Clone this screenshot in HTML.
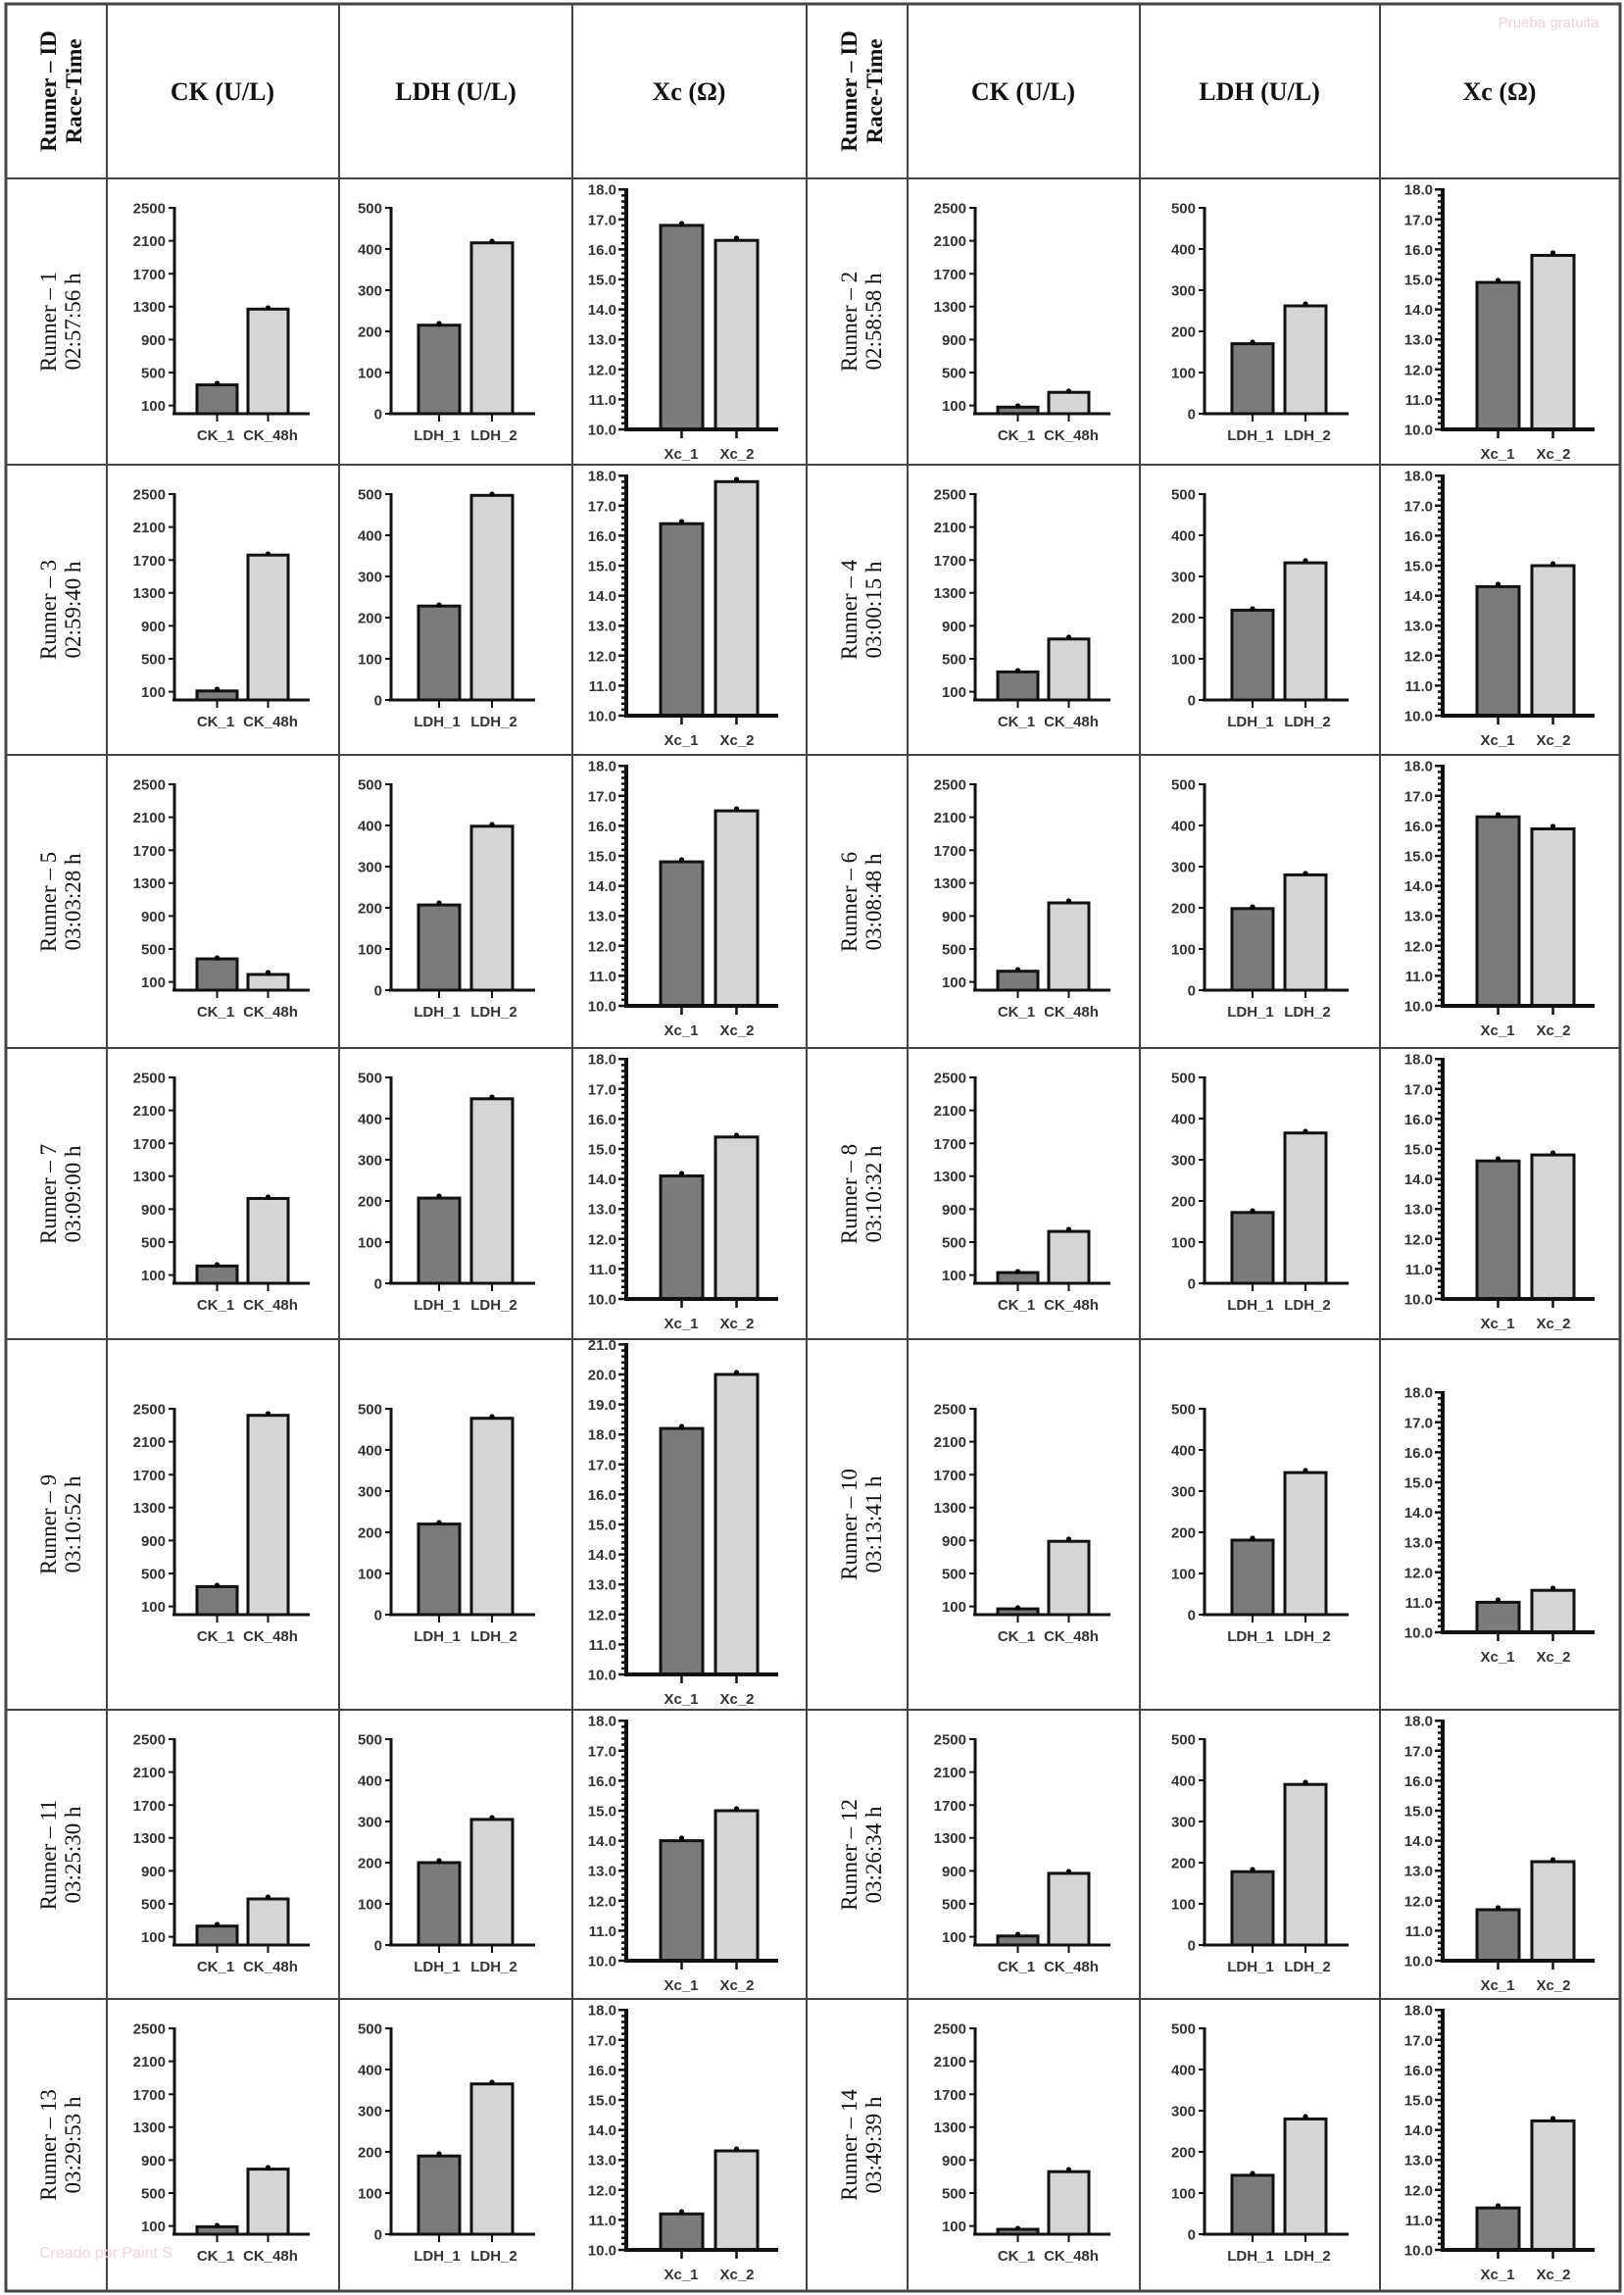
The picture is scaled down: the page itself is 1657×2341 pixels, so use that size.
<!DOCTYPE html>
<html><head><meta charset="utf-8"><style>
html,body{margin:0;padding:0;background:#fff}
svg{display:block}
.ax{stroke:#111;stroke-width:3;fill:none}
.tk{stroke:#111;stroke-width:2;fill:none}
.tl text{font:bold 15px "Liberation Sans",sans-serif;fill:#333;text-anchor:end}
.xl{font:bold 15px "Liberation Sans",sans-serif;fill:#333;text-anchor:middle}
.b1{fill:#7b7b7b;stroke:#111;stroke-width:3}
.b2{fill:#d5d5d5;stroke:#111;stroke-width:3}
.gl{stroke:#444;stroke-width:2}
.rl{font:23px "Liberation Serif",serif;fill:#111;text-anchor:middle}
.hd{font:bold 26px "Liberation Serif",serif;fill:#111;text-anchor:middle}
</style></head><body>
<svg width="1657" height="2341" viewBox="0 0 1657 2341" xmlns="http://www.w3.org/2000/svg">
<defs>
<g id="ckA"><path class="ax" d="M0,-211V0M-2,0H138"/><path class="tk" d="M-6,-8.4H0M-6,-42H0M-6,-75.6H0M-6,-109.2H0M-6,-142.8H0M-6,-176.4H0M-6,-210H0M43.5,0V8M95.5,0V8"/></g>
<g id="ldA"><path class="ax" d="M0,-211V0M-2,0H147"/><path class="tk" d="M-6,0H0M-6,-42H0M-6,-84H0M-6,-126H0M-6,-168H0M-6,-210H0M49,0V8M103,0V8"/></g>
<g id="xcA"><path class="ax" d="M0,-246V0M-2,0H155" style="stroke-width:4"/><path class="tk" d="M-8,0h8m-5,-6.12h5m-5,-6.12h5m-5,-6.12h5m-5,-6.12h5m-8,-6.12h8m-5,-6.12h5m-5,-6.12h5m-5,-6.12h5m-5,-6.12h5m-8,-6.12h8m-5,-6.12h5m-5,-6.12h5m-5,-6.12h5m-5,-6.12h5m-8,-6.12h8m-5,-6.12h5m-5,-6.12h5m-5,-6.12h5m-5,-6.12h5m-8,-6.12h8m-5,-6.12h5m-5,-6.12h5m-5,-6.12h5m-5,-6.12h5m-8,-6.12h8m-5,-6.12h5m-5,-6.12h5m-5,-6.12h5m-5,-6.12h5m-8,-6.12h8m-5,-6.12h5m-5,-6.12h5m-5,-6.12h5m-5,-6.12h5m-8,-6.12h8m-5,-6.12h5m-5,-6.12h5m-5,-6.12h5m-5,-6.12h5m-8,-6.12h8M56.5,0V9M112.5,0V9" style="stroke-width:2.5"/></g>
<g id="xcB"><path class="ax" d="M0,-338V0M-2,0H155" style="stroke-width:4"/><path class="tk" d="M-8,0h8m-5,-6.12h5m-5,-6.12h5m-5,-6.12h5m-5,-6.12h5m-8,-6.12h8m-5,-6.12h5m-5,-6.12h5m-5,-6.12h5m-5,-6.12h5m-8,-6.12h8m-5,-6.12h5m-5,-6.12h5m-5,-6.12h5m-5,-6.12h5m-8,-6.12h8m-5,-6.12h5m-5,-6.12h5m-5,-6.12h5m-5,-6.12h5m-8,-6.12h8m-5,-6.12h5m-5,-6.12h5m-5,-6.12h5m-5,-6.12h5m-8,-6.12h8m-5,-6.12h5m-5,-6.12h5m-5,-6.12h5m-5,-6.12h5m-8,-6.12h8m-5,-6.12h5m-5,-6.12h5m-5,-6.12h5m-5,-6.12h5m-8,-6.12h8m-5,-6.12h5m-5,-6.12h5m-5,-6.12h5m-5,-6.12h5m-8,-6.12h8m-5,-6.12h5m-5,-6.12h5m-5,-6.12h5m-5,-6.12h5m-8,-6.12h8m-5,-6.12h5m-5,-6.12h5m-5,-6.12h5m-5,-6.12h5m-8,-6.12h8m-5,-6.12h5m-5,-6.12h5m-5,-6.12h5m-5,-6.12h5m-8,-6.12h8M56.5,0V9M112.5,0V9" style="stroke-width:2.5"/></g>
</defs>

<rect x="6" y="4" width="1647" height="2333" fill="none" stroke="#444" stroke-width="3"/>
<path class="gl" d="M109,4V2337M346,4V2337M584,4V2337M823,4V2337M926,4V2337M1163,4V2337M1408,4V2337M6,182H1653M6,474H1653M6,770H1653M6,1069H1653M6,1366H1653M6,1744H1653M6,2039H1653"/>

<g transform="translate(57,93) rotate(-90)"><text class="hd" x="0" y="0" style="font-size:23px">Runner – ID</text></g>
<g transform="translate(83,93) rotate(-90)"><text class="hd" x="0" y="0" style="font-size:23px">Race-Time</text></g>
<g transform="translate(874,93) rotate(-90)"><text class="hd" x="0" y="0" style="font-size:23px">Runner – ID</text></g>
<g transform="translate(900,93) rotate(-90)"><text class="hd" x="0" y="0" style="font-size:23px">Race-Time</text></g>
<text class="hd" x="227" y="102">CK (U/L)</text>
<text class="hd" x="465" y="102">LDH (U/L)</text>
<text class="hd" x="703" y="102">Xc (Ω)</text>
<text class="hd" x="1044" y="102">CK (U/L)</text>
<text class="hd" x="1285" y="102">LDH (U/L)</text>
<text class="hd" x="1530" y="102">Xc (Ω)</text>
<text x="1580" y="28" style="font:15px 'Liberation Sans',sans-serif;fill:#f4d2d8" text-anchor="middle">Prueba gratuita</text>
<text x="40" y="2303" style="font:16px 'Liberation Sans',sans-serif;fill:#f6d6dc">Creado por Paint S</text>

<g class="rl">
<g transform="translate(57,328) rotate(-90)"><text>Runner – 1</text></g><g transform="translate(82,328) rotate(-90)"><text>02:57:56 h</text></g>
<g transform="translate(874,328) rotate(-90)"><text>Runner – 2</text></g><g transform="translate(899,328) rotate(-90)"><text>02:58:58 h</text></g>
<g transform="translate(57,622) rotate(-90)"><text>Runner – 3</text></g><g transform="translate(82,622) rotate(-90)"><text>02:59:40 h</text></g>
<g transform="translate(874,622) rotate(-90)"><text>Runner – 4</text></g><g transform="translate(899,622) rotate(-90)"><text>03:00:15 h</text></g>
<g transform="translate(57,920) rotate(-90)"><text>Runner – 5</text></g><g transform="translate(82,920) rotate(-90)"><text>03:03:28 h</text></g>
<g transform="translate(874,920) rotate(-90)"><text>Runner – 6</text></g><g transform="translate(899,920) rotate(-90)"><text>03:08:48 h</text></g>
<g transform="translate(57,1218) rotate(-90)"><text>Runner – 7</text></g><g transform="translate(82,1218) rotate(-90)"><text>03:09:00 h</text></g>
<g transform="translate(874,1218) rotate(-90)"><text>Runner – 8</text></g><g transform="translate(899,1218) rotate(-90)"><text>03:10:32 h</text></g>
<g transform="translate(57,1555) rotate(-90)"><text>Runner – 9</text></g><g transform="translate(82,1555) rotate(-90)"><text>03:10:52 h</text></g>
<g transform="translate(874,1555) rotate(-90)"><text>Runner – 10</text></g><g transform="translate(899,1555) rotate(-90)"><text>03:13:41 h</text></g>
<g transform="translate(57,1892) rotate(-90)"><text>Runner – 11</text></g><g transform="translate(82,1892) rotate(-90)"><text>03:25:30 h</text></g>
<g transform="translate(874,1892) rotate(-90)"><text>Runner – 12</text></g><g transform="translate(899,1892) rotate(-90)"><text>03:26:34 h</text></g>
<g transform="translate(57,2188) rotate(-90)"><text>Runner – 13</text></g><g transform="translate(82,2188) rotate(-90)"><text>03:29:53 h</text></g>
<g transform="translate(874,2188) rotate(-90)"><text>Runner – 14</text></g><g transform="translate(899,2188) rotate(-90)"><text>03:49:39 h</text></g>
</g>

<!-- ROW 1 -->
<g transform="translate(178,422)"><rect class="b1" x="23" y="-29.4" width="41" height="29.4"/><rect class="b2" x="75" y="-106.7" width="41" height="106.7"/><circle cx="43.5" cy="-31" r="2.6"/><circle cx="95.5" cy="-108" r="2.6"/><use href="#ckA"/><g class="tl"><text x="-9" y="-3">100</text><text x="-9" y="-36.5">500</text><text x="-9" y="-70">900</text><text x="-9" y="-104">1300</text><text x="-9" y="-137">1700</text><text x="-9" y="-171">2100</text><text x="-9" y="-204.5">2500</text></g><text class="xl" x="42" y="27">CK_1</text><text class="xl" x="98" y="27">CK_48h</text></g>
<g transform="translate(399,422)"><rect class="b1" x="28" y="-90.3" width="42" height="90.3"/><rect class="b2" x="82" y="-174.3" width="42" height="174.3"/><circle cx="49" cy="-92" r="2.6"/><circle cx="103" cy="-176" r="2.6"/><use href="#ldA"/><g class="tl"><text x="-9" y="5.5">0</text><text x="-9" y="-36.5">100</text><text x="-9" y="-78.5">200</text><text x="-9" y="-120.5">300</text><text x="-9" y="-162.5">400</text><text x="-9" y="-204.5">500</text></g><text class="xl" x="47" y="27">LDH_1</text><text class="xl" x="105" y="27">LDH_2</text></g>
<g transform="translate(639,438)"><rect class="b1" x="35" y="-208.1" width="43" height="208.1"/><rect class="b2" x="91" y="-192.8" width="43" height="192.8"/><circle cx="56.5" cy="-210" r="2.6"/><circle cx="112.5" cy="-195" r="2.6"/><use href="#xcA"/><g class="tl"><text x="-10" y="5.5">10.0</text><text x="-10" y="-25.1">11.0</text><text x="-10" y="-55.7">12.0</text><text x="-10" y="-86.3">13.0</text><text x="-10" y="-116.9">14.0</text><text x="-10" y="-147.5">15.0</text><text x="-10" y="-178.1">16.0</text><text x="-10" y="-208.7">17.0</text><text x="-10" y="-239.3">18.0</text></g><text class="xl" x="56" y="30">Xc_1</text><text class="xl" x="113" y="30">Xc_2</text></g>

<g transform="translate(995,422)"><rect class="b1" x="23" y="-6.7" width="41" height="6.7"/><rect class="b2" x="75" y="-21.8" width="41" height="21.8"/><circle cx="43.5" cy="-8" r="2.6"/><circle cx="95.5" cy="-23" r="2.6"/><use href="#ckA"/><g class="tl"><text x="-9" y="-3">100</text><text x="-9" y="-36.5">500</text><text x="-9" y="-70">900</text><text x="-9" y="-104">1300</text><text x="-9" y="-137">1700</text><text x="-9" y="-171">2100</text><text x="-9" y="-204.5">2500</text></g><text class="xl" x="42" y="27">CK_1</text><text class="xl" x="98" y="27">CK_48h</text></g>
<g transform="translate(1229,422)"><rect class="b1" x="28" y="-71.4" width="42" height="71.4"/><rect class="b2" x="82" y="-110" width="42" height="110"/><circle cx="49" cy="-73" r="2.6"/><circle cx="103" cy="-112" r="2.6"/><use href="#ldA"/><g class="tl"><text x="-9" y="5.5">0</text><text x="-9" y="-36.5">100</text><text x="-9" y="-78.5">200</text><text x="-9" y="-120.5">300</text><text x="-9" y="-162.5">400</text><text x="-9" y="-204.5">500</text></g><text class="xl" x="47" y="27">LDH_1</text><text class="xl" x="105" y="27">LDH_2</text></g>
<g transform="translate(1472,438)"><rect class="b1" x="35" y="-149.9" width="43" height="149.9"/><rect class="b2" x="91" y="-177.5" width="43" height="177.5"/><circle cx="56.5" cy="-152" r="2.6"/><circle cx="112.5" cy="-180" r="2.6"/><use href="#xcA"/><g class="tl"><text x="-10" y="5.5">10.0</text><text x="-10" y="-25.1">11.0</text><text x="-10" y="-55.7">12.0</text><text x="-10" y="-86.3">13.0</text><text x="-10" y="-116.9">14.0</text><text x="-10" y="-147.5">15.0</text><text x="-10" y="-178.1">16.0</text><text x="-10" y="-208.7">17.0</text><text x="-10" y="-239.3">18.0</text></g><text class="xl" x="56" y="30">Xc_1</text><text class="xl" x="113" y="30">Xc_2</text></g>

<!-- ROW 2 -->
<g transform="translate(178,714)"><rect class="b1" x="23" y="-9.2" width="41" height="9.2"/><rect class="b2" x="75" y="-147.8" width="41" height="147.8"/><circle cx="43.5" cy="-11" r="2.6"/><circle cx="95.5" cy="-149" r="2.6"/><use href="#ckA"/><g class="tl"><text x="-9" y="-3">100</text><text x="-9" y="-36.5">500</text><text x="-9" y="-70">900</text><text x="-9" y="-104">1300</text><text x="-9" y="-137">1700</text><text x="-9" y="-171">2100</text><text x="-9" y="-204.5">2500</text></g><text class="xl" x="42" y="27">CK_1</text><text class="xl" x="98" y="27">CK_48h</text></g>
<g transform="translate(399,714)"><rect class="b1" x="28" y="-95.8" width="42" height="95.8"/><rect class="b2" x="82" y="-208.7" width="42" height="208.7"/><circle cx="49" cy="-97" r="2.6"/><circle cx="103" cy="-210" r="2.6"/><use href="#ldA"/><g class="tl"><text x="-9" y="5.5">0</text><text x="-9" y="-36.5">100</text><text x="-9" y="-78.5">200</text><text x="-9" y="-120.5">300</text><text x="-9" y="-162.5">400</text><text x="-9" y="-204.5">500</text></g><text class="xl" x="47" y="27">LDH_1</text><text class="xl" x="105" y="27">LDH_2</text></g>
<g transform="translate(639,730)"><rect class="b1" x="35" y="-195.8" width="43" height="195.8"/><rect class="b2" x="91" y="-238.7" width="43" height="238.7"/><circle cx="56.5" cy="-198" r="2.6"/><circle cx="112.5" cy="-241" r="2.6"/><use href="#xcA"/><g class="tl"><text x="-10" y="5.5">10.0</text><text x="-10" y="-25.1">11.0</text><text x="-10" y="-55.7">12.0</text><text x="-10" y="-86.3">13.0</text><text x="-10" y="-116.9">14.0</text><text x="-10" y="-147.5">15.0</text><text x="-10" y="-178.1">16.0</text><text x="-10" y="-208.7">17.0</text><text x="-10" y="-239.3">18.0</text></g><text class="xl" x="56" y="30">Xc_1</text><text class="xl" x="113" y="30">Xc_2</text></g>

<g transform="translate(995,714)"><rect class="b1" x="23" y="-28.6" width="41" height="28.6"/><rect class="b2" x="75" y="-62.2" width="41" height="62.2"/><circle cx="43.5" cy="-30" r="2.6"/><circle cx="95.5" cy="-64" r="2.6"/><use href="#ckA"/><g class="tl"><text x="-9" y="-3">100</text><text x="-9" y="-36.5">500</text><text x="-9" y="-70">900</text><text x="-9" y="-104">1300</text><text x="-9" y="-137">1700</text><text x="-9" y="-171">2100</text><text x="-9" y="-204.5">2500</text></g><text class="xl" x="42" y="27">CK_1</text><text class="xl" x="98" y="27">CK_48h</text></g>
<g transform="translate(1229,714)"><rect class="b1" x="28" y="-91.6" width="42" height="91.6"/><rect class="b2" x="82" y="-139.9" width="42" height="139.9"/><circle cx="49" cy="-93" r="2.6"/><circle cx="103" cy="-142" r="2.6"/><use href="#ldA"/><g class="tl"><text x="-9" y="5.5">0</text><text x="-9" y="-36.5">100</text><text x="-9" y="-78.5">200</text><text x="-9" y="-120.5">300</text><text x="-9" y="-162.5">400</text><text x="-9" y="-204.5">500</text></g><text class="xl" x="47" y="27">LDH_1</text><text class="xl" x="105" y="27">LDH_2</text></g>
<g transform="translate(1472,730)"><rect class="b1" x="35" y="-131.6" width="43" height="131.6"/><rect class="b2" x="91" y="-153" width="43" height="153"/><circle cx="56.5" cy="-134" r="2.6"/><circle cx="112.5" cy="-155" r="2.6"/><use href="#xcA"/><g class="tl"><text x="-10" y="5.5">10.0</text><text x="-10" y="-25.1">11.0</text><text x="-10" y="-55.7">12.0</text><text x="-10" y="-86.3">13.0</text><text x="-10" y="-116.9">14.0</text><text x="-10" y="-147.5">15.0</text><text x="-10" y="-178.1">16.0</text><text x="-10" y="-208.7">17.0</text><text x="-10" y="-239.3">18.0</text></g><text class="xl" x="56" y="30">Xc_1</text><text class="xl" x="113" y="30">Xc_2</text></g>

<!-- ROW 3 -->
<g transform="translate(178,1010)"><rect class="b1" x="23" y="-31.9" width="41" height="31.9"/><rect class="b2" x="75" y="-16" width="41" height="16"/><circle cx="43.5" cy="-33" r="2.6"/><circle cx="95.5" cy="-18" r="2.6"/><use href="#ckA"/><g class="tl"><text x="-9" y="-3">100</text><text x="-9" y="-36.5">500</text><text x="-9" y="-70">900</text><text x="-9" y="-104">1300</text><text x="-9" y="-137">1700</text><text x="-9" y="-171">2100</text><text x="-9" y="-204.5">2500</text></g><text class="xl" x="42" y="27">CK_1</text><text class="xl" x="98" y="27">CK_48h</text></g>
<g transform="translate(399,1010)"><rect class="b1" x="28" y="-86.9" width="42" height="86.9"/><rect class="b2" x="82" y="-167.2" width="42" height="167.2"/><circle cx="49" cy="-89" r="2.6"/><circle cx="103" cy="-169" r="2.6"/><use href="#ldA"/><g class="tl"><text x="-9" y="5.5">0</text><text x="-9" y="-36.5">100</text><text x="-9" y="-78.5">200</text><text x="-9" y="-120.5">300</text><text x="-9" y="-162.5">400</text><text x="-9" y="-204.5">500</text></g><text class="xl" x="47" y="27">LDH_1</text><text class="xl" x="105" y="27">LDH_2</text></g>
<g transform="translate(639,1026)"><rect class="b1" x="35" y="-146.9" width="43" height="146.9"/><rect class="b2" x="91" y="-198.9" width="43" height="198.9"/><circle cx="56.5" cy="-149" r="2.6"/><circle cx="112.5" cy="-201" r="2.6"/><use href="#xcA"/><g class="tl"><text x="-10" y="5.5">10.0</text><text x="-10" y="-25.1">11.0</text><text x="-10" y="-55.7">12.0</text><text x="-10" y="-86.3">13.0</text><text x="-10" y="-116.9">14.0</text><text x="-10" y="-147.5">15.0</text><text x="-10" y="-178.1">16.0</text><text x="-10" y="-208.7">17.0</text><text x="-10" y="-239.3">18.0</text></g><text class="xl" x="56" y="30">Xc_1</text><text class="xl" x="113" y="30">Xc_2</text></g>

<g transform="translate(995,1010)"><rect class="b1" x="23" y="-19.3" width="41" height="19.3"/><rect class="b2" x="75" y="-89" width="41" height="89"/><circle cx="43.5" cy="-21" r="2.6"/><circle cx="95.5" cy="-91" r="2.6"/><use href="#ckA"/><g class="tl"><text x="-9" y="-3">100</text><text x="-9" y="-36.5">500</text><text x="-9" y="-70">900</text><text x="-9" y="-104">1300</text><text x="-9" y="-137">1700</text><text x="-9" y="-171">2100</text><text x="-9" y="-204.5">2500</text></g><text class="xl" x="42" y="27">CK_1</text><text class="xl" x="98" y="27">CK_48h</text></g>
<g transform="translate(1229,1010)"><rect class="b1" x="28" y="-83.2" width="42" height="83.2"/><rect class="b2" x="82" y="-117.6" width="42" height="117.6"/><circle cx="49" cy="-85" r="2.6"/><circle cx="103" cy="-119" r="2.6"/><use href="#ldA"/><g class="tl"><text x="-9" y="5.5">0</text><text x="-9" y="-36.5">100</text><text x="-9" y="-78.5">200</text><text x="-9" y="-120.5">300</text><text x="-9" y="-162.5">400</text><text x="-9" y="-204.5">500</text></g><text class="xl" x="47" y="27">LDH_1</text><text class="xl" x="105" y="27">LDH_2</text></g>
<g transform="translate(1472,1026)"><rect class="b1" x="35" y="-192.8" width="43" height="192.8"/><rect class="b2" x="91" y="-180.5" width="43" height="180.5"/><circle cx="56.5" cy="-195" r="2.6"/><circle cx="112.5" cy="-183" r="2.6"/><use href="#xcA"/><g class="tl"><text x="-10" y="5.5">10.0</text><text x="-10" y="-25.1">11.0</text><text x="-10" y="-55.7">12.0</text><text x="-10" y="-86.3">13.0</text><text x="-10" y="-116.9">14.0</text><text x="-10" y="-147.5">15.0</text><text x="-10" y="-178.1">16.0</text><text x="-10" y="-208.7">17.0</text><text x="-10" y="-239.3">18.0</text></g><text class="xl" x="56" y="30">Xc_1</text><text class="xl" x="113" y="30">Xc_2</text></g>

<!-- ROW 4 -->
<g transform="translate(178,1309)"><rect class="b1" x="23" y="-17.6" width="41" height="17.6"/><rect class="b2" x="75" y="-86.5" width="41" height="86.5"/><circle cx="43.5" cy="-19" r="2.6"/><circle cx="95.5" cy="-88" r="2.6"/><use href="#ckA"/><g class="tl"><text x="-9" y="-3">100</text><text x="-9" y="-36.5">500</text><text x="-9" y="-70">900</text><text x="-9" y="-104">1300</text><text x="-9" y="-137">1700</text><text x="-9" y="-171">2100</text><text x="-9" y="-204.5">2500</text></g><text class="xl" x="42" y="27">CK_1</text><text class="xl" x="98" y="27">CK_48h</text></g>
<g transform="translate(399,1309)"><rect class="b1" x="28" y="-86.9" width="42" height="86.9"/><rect class="b2" x="82" y="-188.2" width="42" height="188.2"/><circle cx="49" cy="-89" r="2.6"/><circle cx="103" cy="-190" r="2.6"/><use href="#ldA"/><g class="tl"><text x="-9" y="5.5">0</text><text x="-9" y="-36.5">100</text><text x="-9" y="-78.5">200</text><text x="-9" y="-120.5">300</text><text x="-9" y="-162.5">400</text><text x="-9" y="-204.5">500</text></g><text class="xl" x="47" y="27">LDH_1</text><text class="xl" x="105" y="27">LDH_2</text></g>
<g transform="translate(639,1325)"><rect class="b1" x="35" y="-125.5" width="43" height="125.5"/><rect class="b2" x="91" y="-165.2" width="43" height="165.2"/><circle cx="56.5" cy="-128" r="2.6"/><circle cx="112.5" cy="-167" r="2.6"/><use href="#xcA"/><g class="tl"><text x="-10" y="5.5">10.0</text><text x="-10" y="-25.1">11.0</text><text x="-10" y="-55.7">12.0</text><text x="-10" y="-86.3">13.0</text><text x="-10" y="-116.9">14.0</text><text x="-10" y="-147.5">15.0</text><text x="-10" y="-178.1">16.0</text><text x="-10" y="-208.7">17.0</text><text x="-10" y="-239.3">18.0</text></g><text class="xl" x="56" y="30">Xc_1</text><text class="xl" x="113" y="30">Xc_2</text></g>

<g transform="translate(995,1309)"><rect class="b1" x="23" y="-10.9" width="41" height="10.9"/><rect class="b2" x="75" y="-52.9" width="41" height="52.9"/><circle cx="43.5" cy="-12" r="2.6"/><circle cx="95.5" cy="-55" r="2.6"/><use href="#ckA"/><g class="tl"><text x="-9" y="-3">100</text><text x="-9" y="-36.5">500</text><text x="-9" y="-70">900</text><text x="-9" y="-104">1300</text><text x="-9" y="-137">1700</text><text x="-9" y="-171">2100</text><text x="-9" y="-204.5">2500</text></g><text class="xl" x="42" y="27">CK_1</text><text class="xl" x="98" y="27">CK_48h</text></g>
<g transform="translate(1229,1309)"><rect class="b1" x="28" y="-72.2" width="42" height="72.2"/><rect class="b2" x="82" y="-153.3" width="42" height="153.3"/><circle cx="49" cy="-74" r="2.6"/><circle cx="103" cy="-155" r="2.6"/><use href="#ldA"/><g class="tl"><text x="-9" y="5.5">0</text><text x="-9" y="-36.5">100</text><text x="-9" y="-78.5">200</text><text x="-9" y="-120.5">300</text><text x="-9" y="-162.5">400</text><text x="-9" y="-204.5">500</text></g><text class="xl" x="47" y="27">LDH_1</text><text class="xl" x="105" y="27">LDH_2</text></g>
<g transform="translate(1472,1325)"><rect class="b1" x="35" y="-140.8" width="43" height="140.8"/><rect class="b2" x="91" y="-146.9" width="43" height="146.9"/><circle cx="56.5" cy="-143" r="2.6"/><circle cx="112.5" cy="-149" r="2.6"/><use href="#xcA"/><g class="tl"><text x="-10" y="5.5">10.0</text><text x="-10" y="-25.1">11.0</text><text x="-10" y="-55.7">12.0</text><text x="-10" y="-86.3">13.0</text><text x="-10" y="-116.9">14.0</text><text x="-10" y="-147.5">15.0</text><text x="-10" y="-178.1">16.0</text><text x="-10" y="-208.7">17.0</text><text x="-10" y="-239.3">18.0</text></g><text class="xl" x="56" y="30">Xc_1</text><text class="xl" x="113" y="30">Xc_2</text></g>

<!-- ROW 5 -->
<g transform="translate(178,1647)"><rect class="b1" x="23" y="-28.6" width="41" height="28.6"/><rect class="b2" x="75" y="-203.3" width="41" height="203.3"/><circle cx="43.5" cy="-30" r="2.6"/><circle cx="95.5" cy="-205" r="2.6"/><use href="#ckA"/><g class="tl"><text x="-9" y="-3">100</text><text x="-9" y="-36.5">500</text><text x="-9" y="-70">900</text><text x="-9" y="-104">1300</text><text x="-9" y="-137">1700</text><text x="-9" y="-171">2100</text><text x="-9" y="-204.5">2500</text></g><text class="xl" x="42" y="27">CK_1</text><text class="xl" x="98" y="27">CK_48h</text></g>
<g transform="translate(399,1647)"><rect class="b1" x="28" y="-92.4" width="42" height="92.4"/><rect class="b2" x="82" y="-200.3" width="42" height="200.3"/><circle cx="49" cy="-94" r="2.6"/><circle cx="103" cy="-202" r="2.6"/><use href="#ldA"/><g class="tl"><text x="-9" y="5.5">0</text><text x="-9" y="-36.5">100</text><text x="-9" y="-78.5">200</text><text x="-9" y="-120.5">300</text><text x="-9" y="-162.5">400</text><text x="-9" y="-204.5">500</text></g><text class="xl" x="47" y="27">LDH_1</text><text class="xl" x="105" y="27">LDH_2</text></g>
<g transform="translate(639,1708)"><rect class="b1" x="35" y="-250.9" width="43" height="250.9"/><rect class="b2" x="91" y="-306" width="43" height="306"/><circle cx="56.5" cy="-253" r="2.6"/><circle cx="112.5" cy="-308" r="2.6"/><use href="#xcB"/><g class="tl"><text x="-10" y="5.5">10.0</text><text x="-10" y="-25.1">11.0</text><text x="-10" y="-55.7">12.0</text><text x="-10" y="-86.3">13.0</text><text x="-10" y="-116.9">14.0</text><text x="-10" y="-147.5">15.0</text><text x="-10" y="-178.1">16.0</text><text x="-10" y="-208.7">17.0</text><text x="-10" y="-239.3">18.0</text><text x="-10" y="-269.9">19.0</text><text x="-10" y="-300.5">20.0</text><text x="-10" y="-331.1">21.0</text></g><text class="xl" x="56" y="30">Xc_1</text><text class="xl" x="113" y="30">Xc_2</text></g>

<g transform="translate(995,1647)"><rect class="b1" x="23" y="-5.9" width="41" height="5.9"/><rect class="b2" x="75" y="-74.8" width="41" height="74.8"/><circle cx="43.5" cy="-7" r="2.6"/><circle cx="95.5" cy="-77" r="2.6"/><use href="#ckA"/><g class="tl"><text x="-9" y="-3">100</text><text x="-9" y="-36.5">500</text><text x="-9" y="-70">900</text><text x="-9" y="-104">1300</text><text x="-9" y="-137">1700</text><text x="-9" y="-171">2100</text><text x="-9" y="-204.5">2500</text></g><text class="xl" x="42" y="27">CK_1</text><text class="xl" x="98" y="27">CK_48h</text></g>
<g transform="translate(1229,1647)"><rect class="b1" x="28" y="-76" width="42" height="76"/><rect class="b2" x="82" y="-144.9" width="42" height="144.9"/><circle cx="49" cy="-78" r="2.6"/><circle cx="103" cy="-147" r="2.6"/><use href="#ldA"/><g class="tl"><text x="-9" y="5.5">0</text><text x="-9" y="-36.5">100</text><text x="-9" y="-78.5">200</text><text x="-9" y="-120.5">300</text><text x="-9" y="-162.5">400</text><text x="-9" y="-204.5">500</text></g><text class="xl" x="47" y="27">LDH_1</text><text class="xl" x="105" y="27">LDH_2</text></g>
<g transform="translate(1472,1665)"><rect class="b1" x="35" y="-30.6" width="43" height="30.6"/><rect class="b2" x="91" y="-42.8" width="43" height="42.8"/><circle cx="56.5" cy="-33" r="2.6"/><circle cx="112.5" cy="-45" r="2.6"/><use href="#xcA"/><g class="tl"><text x="-10" y="5.5">10.0</text><text x="-10" y="-25.1">11.0</text><text x="-10" y="-55.7">12.0</text><text x="-10" y="-86.3">13.0</text><text x="-10" y="-116.9">14.0</text><text x="-10" y="-147.5">15.0</text><text x="-10" y="-178.1">16.0</text><text x="-10" y="-208.7">17.0</text><text x="-10" y="-239.3">18.0</text></g><text class="xl" x="56" y="30">Xc_1</text><text class="xl" x="113" y="30">Xc_2</text></g>

<!-- ROW 6 -->
<g transform="translate(178,1984)"><rect class="b1" x="23" y="-19.3" width="41" height="19.3"/><rect class="b2" x="75" y="-47" width="41" height="47"/><circle cx="43.5" cy="-21" r="2.6"/><circle cx="95.5" cy="-49" r="2.6"/><use href="#ckA"/><g class="tl"><text x="-9" y="-3">100</text><text x="-9" y="-36.5">500</text><text x="-9" y="-70">900</text><text x="-9" y="-104">1300</text><text x="-9" y="-137">1700</text><text x="-9" y="-171">2100</text><text x="-9" y="-204.5">2500</text></g><text class="xl" x="42" y="27">CK_1</text><text class="xl" x="98" y="27">CK_48h</text></g>
<g transform="translate(399,1984)"><rect class="b1" x="28" y="-84" width="42" height="84"/><rect class="b2" x="82" y="-128.1" width="42" height="128.1"/><circle cx="49" cy="-86" r="2.6"/><circle cx="103" cy="-130" r="2.6"/><use href="#ldA"/><g class="tl"><text x="-9" y="5.5">0</text><text x="-9" y="-36.5">100</text><text x="-9" y="-78.5">200</text><text x="-9" y="-120.5">300</text><text x="-9" y="-162.5">400</text><text x="-9" y="-204.5">500</text></g><text class="xl" x="47" y="27">LDH_1</text><text class="xl" x="105" y="27">LDH_2</text></g>
<g transform="translate(639,2000)"><rect class="b1" x="35" y="-122.4" width="43" height="122.4"/><rect class="b2" x="91" y="-153" width="43" height="153"/><circle cx="56.5" cy="-125" r="2.6"/><circle cx="112.5" cy="-155" r="2.6"/><use href="#xcA"/><g class="tl"><text x="-10" y="5.5">10.0</text><text x="-10" y="-25.1">11.0</text><text x="-10" y="-55.7">12.0</text><text x="-10" y="-86.3">13.0</text><text x="-10" y="-116.9">14.0</text><text x="-10" y="-147.5">15.0</text><text x="-10" y="-178.1">16.0</text><text x="-10" y="-208.7">17.0</text><text x="-10" y="-239.3">18.0</text></g><text class="xl" x="56" y="30">Xc_1</text><text class="xl" x="113" y="30">Xc_2</text></g>

<g transform="translate(995,1984)"><rect class="b1" x="23" y="-9.2" width="41" height="9.2"/><rect class="b2" x="75" y="-73.1" width="41" height="73.1"/><circle cx="43.5" cy="-11" r="2.6"/><circle cx="95.5" cy="-75" r="2.6"/><use href="#ckA"/><g class="tl"><text x="-9" y="-3">100</text><text x="-9" y="-36.5">500</text><text x="-9" y="-70">900</text><text x="-9" y="-104">1300</text><text x="-9" y="-137">1700</text><text x="-9" y="-171">2100</text><text x="-9" y="-204.5">2500</text></g><text class="xl" x="42" y="27">CK_1</text><text class="xl" x="98" y="27">CK_48h</text></g>
<g transform="translate(1229,1984)"><rect class="b1" x="28" y="-74.8" width="42" height="74.8"/><rect class="b2" x="82" y="-163.8" width="42" height="163.8"/><circle cx="49" cy="-77" r="2.6"/><circle cx="103" cy="-166" r="2.6"/><use href="#ldA"/><g class="tl"><text x="-9" y="5.5">0</text><text x="-9" y="-36.5">100</text><text x="-9" y="-78.5">200</text><text x="-9" y="-120.5">300</text><text x="-9" y="-162.5">400</text><text x="-9" y="-204.5">500</text></g><text class="xl" x="47" y="27">LDH_1</text><text class="xl" x="105" y="27">LDH_2</text></g>
<g transform="translate(1472,2000)"><rect class="b1" x="35" y="-52" width="43" height="52"/><rect class="b2" x="91" y="-101" width="43" height="101"/><circle cx="56.5" cy="-54" r="2.6"/><circle cx="112.5" cy="-103" r="2.6"/><use href="#xcA"/><g class="tl"><text x="-10" y="5.5">10.0</text><text x="-10" y="-25.1">11.0</text><text x="-10" y="-55.7">12.0</text><text x="-10" y="-86.3">13.0</text><text x="-10" y="-116.9">14.0</text><text x="-10" y="-147.5">15.0</text><text x="-10" y="-178.1">16.0</text><text x="-10" y="-208.7">17.0</text><text x="-10" y="-239.3">18.0</text></g><text class="xl" x="56" y="30">Xc_1</text><text class="xl" x="113" y="30">Xc_2</text></g>

<!-- ROW 7 -->
<g transform="translate(178,2279)"><rect class="b1" x="23" y="-7.6" width="41" height="7.6"/><rect class="b2" x="75" y="-66.4" width="41" height="66.4"/><circle cx="43.5" cy="-9" r="2.6"/><circle cx="95.5" cy="-68" r="2.6"/><use href="#ckA"/><g class="tl"><text x="-9" y="-3">100</text><text x="-9" y="-36.5">500</text><text x="-9" y="-70">900</text><text x="-9" y="-104">1300</text><text x="-9" y="-137">1700</text><text x="-9" y="-171">2100</text><text x="-9" y="-204.5">2500</text></g><text class="xl" x="42" y="27">CK_1</text><text class="xl" x="98" y="27">CK_48h</text></g>
<g transform="translate(399,2279)"><rect class="b1" x="28" y="-79.8" width="42" height="79.8"/><rect class="b2" x="82" y="-153.3" width="42" height="153.3"/><circle cx="49" cy="-82" r="2.6"/><circle cx="103" cy="-155" r="2.6"/><use href="#ldA"/><g class="tl"><text x="-9" y="5.5">0</text><text x="-9" y="-36.5">100</text><text x="-9" y="-78.5">200</text><text x="-9" y="-120.5">300</text><text x="-9" y="-162.5">400</text><text x="-9" y="-204.5">500</text></g><text class="xl" x="47" y="27">LDH_1</text><text class="xl" x="105" y="27">LDH_2</text></g>
<g transform="translate(639,2295)"><rect class="b1" x="35" y="-36.7" width="43" height="36.7"/><rect class="b2" x="91" y="-101" width="43" height="101"/><circle cx="56.5" cy="-39" r="2.6"/><circle cx="112.5" cy="-103" r="2.6"/><use href="#xcA"/><g class="tl"><text x="-10" y="5.5">10.0</text><text x="-10" y="-25.1">11.0</text><text x="-10" y="-55.7">12.0</text><text x="-10" y="-86.3">13.0</text><text x="-10" y="-116.9">14.0</text><text x="-10" y="-147.5">15.0</text><text x="-10" y="-178.1">16.0</text><text x="-10" y="-208.7">17.0</text><text x="-10" y="-239.3">18.0</text></g><text class="xl" x="56" y="30">Xc_1</text><text class="xl" x="113" y="30">Xc_2</text></g>

<g transform="translate(995,2279)"><rect class="b1" x="23" y="-5" width="41" height="5"/><rect class="b2" x="75" y="-63.8" width="41" height="63.8"/><circle cx="43.5" cy="-6" r="2.6"/><circle cx="95.5" cy="-66" r="2.6"/><use href="#ckA"/><g class="tl"><text x="-9" y="-3">100</text><text x="-9" y="-36.5">500</text><text x="-9" y="-70">900</text><text x="-9" y="-104">1300</text><text x="-9" y="-137">1700</text><text x="-9" y="-171">2100</text><text x="-9" y="-204.5">2500</text></g><text class="xl" x="42" y="27">CK_1</text><text class="xl" x="98" y="27">CK_48h</text></g>
<g transform="translate(1229,2279)"><rect class="b1" x="28" y="-60.1" width="42" height="60.1"/><rect class="b2" x="82" y="-117.6" width="42" height="117.6"/><circle cx="49" cy="-62" r="2.6"/><circle cx="103" cy="-120" r="2.6"/><use href="#ldA"/><g class="tl"><text x="-9" y="5.5">0</text><text x="-9" y="-36.5">100</text><text x="-9" y="-78.5">200</text><text x="-9" y="-120.5">300</text><text x="-9" y="-162.5">400</text><text x="-9" y="-204.5">500</text></g><text class="xl" x="47" y="27">LDH_1</text><text class="xl" x="105" y="27">LDH_2</text></g>
<g transform="translate(1472,2295)"><rect class="b1" x="35" y="-42.8" width="43" height="42.8"/><rect class="b2" x="91" y="-131.6" width="43" height="131.6"/><circle cx="56.5" cy="-45" r="2.6"/><circle cx="112.5" cy="-134" r="2.6"/><use href="#xcA"/><g class="tl"><text x="-10" y="5.5">10.0</text><text x="-10" y="-25.1">11.0</text><text x="-10" y="-55.7">12.0</text><text x="-10" y="-86.3">13.0</text><text x="-10" y="-116.9">14.0</text><text x="-10" y="-147.5">15.0</text><text x="-10" y="-178.1">16.0</text><text x="-10" y="-208.7">17.0</text><text x="-10" y="-239.3">18.0</text></g><text class="xl" x="56" y="30">Xc_1</text><text class="xl" x="113" y="30">Xc_2</text></g>
</svg>
</body></html>
